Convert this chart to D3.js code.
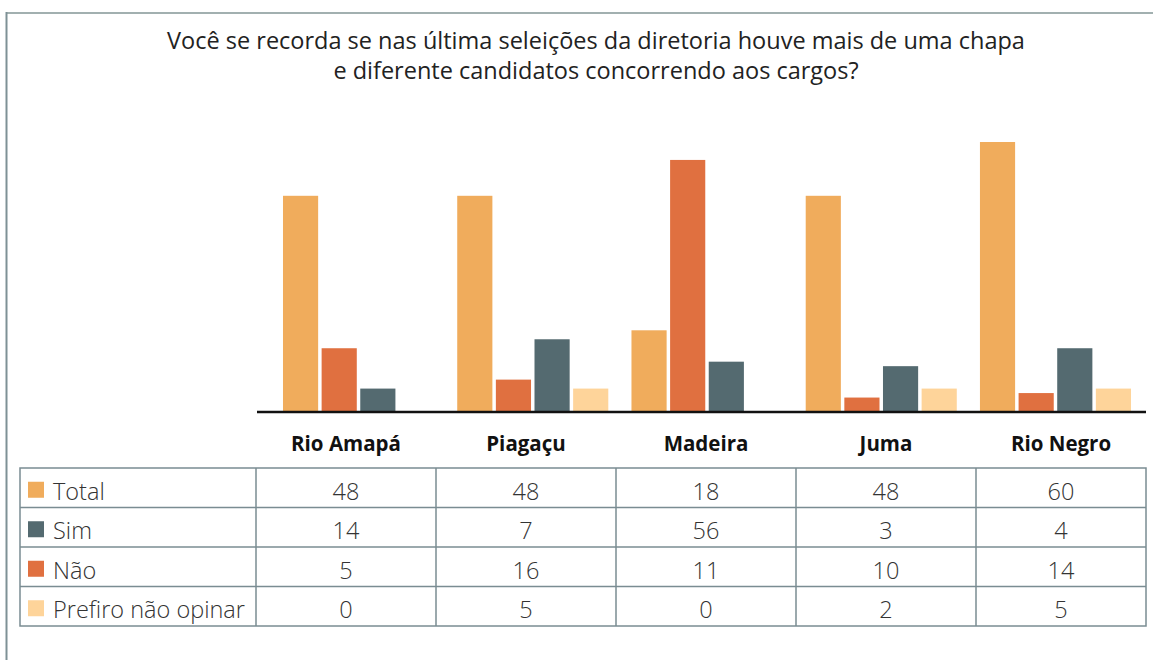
<!DOCTYPE html>
<html>
<head>
<meta charset="utf-8">
<script src="https://cdn.jsdelivr.net/npm/d3@7"></script>
<style>
  body { margin: 0; background: #fff; }
  svg { display: block; }
</style>
</head>
<body>
<div id="chart"></div>
<script>
// Data
const title = ["Você se recorda se nas última seleições da diretoria houve mais de uma chapa",
               "e diferente candidatos concorrendo aos cargos?"];
const categories = ["Rio Amapá", "Piagaçu", "Madeira", "Juma", "Rio Negro"];
const seriesNames = ["Total", "Sim", "Não", "Prefiro não opinar"];
const total = [48, 48, 18, 48, 60];
const sim = [14, 7, 56, 3, 4];
const nao = [5, 16, 11, 10, 14];
const prefiro = [0, 5, 0, 2, 5];
// the bar for "Prefiro não opinar" in Juma is drawn taller than its table value
const prefiroBar = [0, 5, 0, 5, 5];

// Bars: colours as they appear in the chart, table keys as they appear in the table
const barColors = ["#F0AC5C", "#E07040", "#546A70", "#FED49A"];
const keyColors = ["#F0AC5C", "#546A70", "#E07040", "#FED49A"];

const width = 1153, height = 660;
const font = "'Open Sans', 'Noto Sans', sans-serif";

const svg = d3.select("#chart")
    .append("svg")
    .attr("width", width)
    .attr("height", height);

// Outer frame (top and left edges)
svg.append("line")
    .attr("x1", 6).attr("x2", width)
    .attr("y1", 13).attr("y2", 13)
    .attr("stroke", "#A2B0B0")
    .attr("stroke-width", 2);
svg.append("line")
    .attr("x1", 6.5).attr("x2", 6.5)
    .attr("y1", 12).attr("y2", height)
    .attr("stroke", "#7E9196")
    .attr("stroke-width", 2);

// Title
svg.append("text")
    .attr("x", 596)
    .attr("y", 49)
    .attr("text-anchor", "middle")
    .style("font-family", font)
    .style("font-size", "23.5px")
    .style("fill", "#222")
    .selectAll("tspan")
    .data(title)
    .enter()
    .append("tspan")
    .attr("x", 596)
    .attr("dy", (d, i) => i === 0 ? 0 : 30)
    .text(d => d);

// Bar chart
const barData = categories.map((c, i) => ({
    category: c,
    values: [total[i], sim[i], nao[i], prefiroBar[i]]
}));

const x0 = d3.scaleBand()
    .domain(categories)
    .range([271.4, 1142.6])
    .paddingInner(0.133)
    .paddingOuter(0.0665);

const x1 = d3.scaleBand()
    .domain(d3.range(seriesNames.length))
    .range([0, x0.bandwidth()])
    .paddingInner(0.09);

const y = d3.scaleLinear()
    .domain([0, 60])
    .range([411, 142]);

const groups = svg.selectAll(".group")
    .data(barData)
    .enter()
    .append("g")
    .attr("class", "group")
    .attr("transform", d => `translate(${x0(d.category)},0)`);

groups.selectAll("rect")
    .data(d => d.values)
    .enter()
    .append("rect")
    .attr("x", (d, i) => x1(i))
    .attr("y", d => y(d))
    .attr("width", x1.bandwidth())
    .attr("height", d => y(0) - y(d))
    .attr("fill", (d, i) => barColors[i]);

// Baseline
svg.append("line")
    .attr("x1", 257).attr("x2", 1146)
    .attr("y1", 412).attr("y2", 412)
    .attr("stroke", "#111")
    .attr("stroke-width", 2.5);

// Table
const tableLeft = 20, tableRight = 1146;
const col = d3.scaleBand()
    .domain(categories)
    .range([256, 1156]);  // last column is cut short by the right border

const row = d3.scaleBand()
    .domain(seriesNames)
    .range([468, 626]);

const colCenter = c => (col(c) + Math.min(col(c) + col.bandwidth(), tableRight)) / 2;

// Category labels above the table columns
svg.selectAll(".cat")
    .data(categories)
    .enter()
    .append("text")
    .attr("class", "cat")
    .attr("x", d => colCenter(d))
    .attr("y", 451)
    .attr("text-anchor", "middle")
    .style("font-family", font)
    .style("font-weight", "bold")
    .style("font-size", "20.5px")
    .style("fill", "#111")
    .text(d => d);

const gridColor = "#7A8C92";
const table = svg.append("g");

// Outer border
table.append("rect")
    .attr("x", tableLeft)
    .attr("y", 468)
    .attr("width", tableRight - tableLeft)
    .attr("height", 626 - 468)
    .attr("fill", "none")
    .attr("stroke", gridColor)
    .attr("stroke-width", 1.5);

// Horizontal row lines
table.selectAll(".hline")
    .data(seriesNames.slice(1))
    .enter()
    .append("line")
    .attr("x1", tableLeft).attr("x2", tableRight)
    .attr("y1", d => row(d)).attr("y2", d => row(d))
    .attr("stroke", gridColor)
    .attr("stroke-width", 1.5);

// Vertical column lines
table.selectAll(".vline")
    .data(categories)
    .enter()
    .append("line")
    .attr("x1", d => col(d)).attr("x2", d => col(d))
    .attr("y1", 468).attr("y2", 626)
    .attr("stroke", gridColor)
    .attr("stroke-width", 1.5);

const tableRows = [total, sim, nao, prefiro];

seriesNames.forEach((name, r) => {
    const cy = row(name) + row.bandwidth() / 2 + 4;

    // colour key
    table.append("rect")
        .attr("x", 28)
        .attr("y", cy - 10)
        .attr("width", 16)
        .attr("height", 16)
        .attr("fill", keyColors[r]);

    table.append("text")
        .attr("x", 53)
        .attr("y", cy)
        .attr("dy", "0.35em")
        .style("font-family", font)
        .style("font-weight", 300)
        .style("font-size", "23.5px")
        .style("fill", "#333")
        .text(name);

    tableRows[r].forEach((v, c) => {
        table.append("text")
            .attr("x", colCenter(categories[c]))
            .attr("y", cy)
            .attr("dy", "0.35em")
            .attr("text-anchor", "middle")
            .style("font-family", font)
            .style("font-weight", 300)
            .style("font-size", "23.5px")
            .style("fill", "#333")
            .text(v);
    });
});
</script>
</body>
</html>
